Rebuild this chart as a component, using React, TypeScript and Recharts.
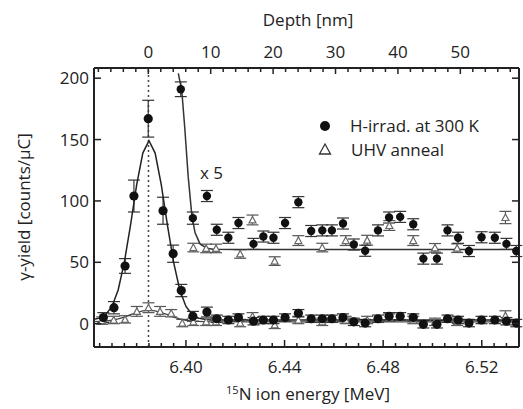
import React from "react";
import {
  ScatterChart,
  Scatter,
  XAxis,
  YAxis,
  ErrorBar,
  ReferenceLine,
} from "recharts";

// H-irradiated sample at 300 K (counts/uC vs 15N energy in MeV)
const hEnergy = [
  6.3665, 6.3708, 6.3753, 6.3789, 6.3847, 6.3907, 6.3948, 6.3981, 6.4028,
  6.4085, 6.4125, 6.4172, 6.4213, 6.4274, 6.4314, 6.4355, 6.4402, 6.4456,
  6.4508, 6.4553, 6.4592, 6.4637, 6.4681, 6.4727, 6.4779, 6.4824, 6.4869,
  6.4922, 6.4963, 6.5018, 6.5061, 6.5104, 6.5148, 6.5199, 6.5253, 6.53,
  6.534,
];
const hYield = [
  5, 13, 47, 104, 167, 92, 57, 27, 6, 9.5, 4, 3, 5, 2, 3, 3, 5, 8.5, 4, 4, 4,
  5, 1.5, 0.5, 4, 6, 6, 5, -0.5, -0.5, 4, 3, 0.5, 3, 3, 2, 0.5,
];
const hErr = [
  4, 5, 6, 13, 15, 11, 7, 5, 4, 4, 3, 3, 3, 3, 3, 3, 3, 3, 3, 3, 3, 3, 3, 3, 3,
  3, 3, 3, 3, 3, 3, 3, 3, 3, 3, 3, 3,
];

// same data magnified x5 (tail)
const hX5Energy = [
  6.3979, 6.4028, 6.4085, 6.4125, 6.4172, 6.4213, 6.4274, 6.4314, 6.4355,
  6.4402, 6.4456, 6.4508, 6.4553, 6.4592, 6.4637, 6.4681, 6.4727, 6.4779,
  6.4824, 6.4869, 6.4922, 6.4963, 6.5018, 6.5061, 6.5104, 6.5148, 6.5199,
  6.5253, 6.53, 6.534,
];
const hX5Yield = [
  191, 86, 104, 76.5, 70, 82, 65, 71, 70, 82, 99, 75.5, 76, 76, 81.6, 64.5,
  59.4, 76, 86.5, 87, 81, 53, 53, 76, 70, 59.2, 70.4, 70, 65, 59.2,
];
const hX5Err = [
  6, 5, 4.5, 4.5, 4.5, 4.5, 4.5, 4.5, 4.5, 4.5, 4.5, 4.5, 4.5, 4.5, 4.5, 4.5,
  4.5, 4.5, 4.5, 4.5, 4.5, 4.5, 4.5, 4.5, 4.5, 4.5, 4.5, 4.5, 4.5, 4.5,
];

// UHV anneal
const uhvEnergy = [
  6.366, 6.3707, 6.3753, 6.3801, 6.3848, 6.3895, 6.394, 6.3985, 6.403, 6.4082,
  6.4122, 6.422, 6.427, 6.436, 6.4456, 6.4553, 6.4648, 6.4735, 6.4825, 6.4922,
  6.501, 6.51, 6.5296,
];
const uhvYield = [
  2.5, 3, 3.5, 10, 13, 10, 8.5, 0.5, 1.5, 1.5, 1.5, 0.5, 6, -1, 3, 1.5, 3, 3,
  5, 3, 1.5, 1.5, 6.5,
];
const uhvErr = [3, 3, 3, 4, 4, 4, 3, 3, 3, 3, 3, 3, 3, 3, 3, 3, 3, 3, 3, 3, 3, 3, 4];

const uhvX5Energy = [
  6.403, 6.4082, 6.4122, 6.422, 6.427, 6.436, 6.4456, 6.4553, 6.4648, 6.4735,
  6.4825, 6.4922, 6.501, 6.51, 6.5296,
];
const uhvX5Yield = [
  62, 61.3, 61.3, 56.8, 84.5, 51, 67.7, 62, 67.7, 68, 80, 67.7, 61.8, 61.5,
  86.5,
];
const uhvX5Err = [3.5, 3.5, 3.5, 3.5, 4, 3.5, 4, 3.5, 4, 4, 4, 4, 3.5, 3.5, 5];

// fit curves
const fitEnergy = [
  6.3627, 6.365, 6.3675, 6.37, 6.3725, 6.375, 6.3775, 6.38, 6.3825, 6.385,
  6.3875, 6.39, 6.3925, 6.395, 6.3975, 6.4, 6.4025, 6.405, 6.4075, 6.41, 6.535,
];
const fitH = [
  3.5, 4.5, 7.5, 14, 27.5, 50, 80, 113, 139, 149, 139, 113, 80, 50, 27.5, 14,
  7.5, 4.5, 3.5, 3, 3,
];
const fitUhv = [
  1.6, 1.8, 2.1, 2.8, 3.9, 5.4, 7.3, 9.1, 10.5, 11, 10.5, 9.1, 7.3, 5.4, 3.9,
  2.8, 2.1, 1.8, 1.6, 1.5, 1.5,
];
const fitX5Energy = [
  6.3969, 6.3983, 6.3995, 6.4009, 6.4024, 6.4037, 6.4057, 6.4085, 6.411, 6.42,
  6.535,
];
const fitX5 = [204, 190, 160, 120, 88, 74, 65, 61.5, 60.7, 60.5, 60.5];

// axes
const energyTicks = [
  6.365, 6.37, 6.375, 6.38, 6.385, 6.39, 6.395, 6.4, 6.405, 6.41, 6.415, 6.42,
  6.425, 6.43, 6.435, 6.44, 6.445, 6.45, 6.455, 6.46, 6.465, 6.47, 6.475, 6.48,
  6.485, 6.49, 6.495, 6.5, 6.505, 6.51, 6.515, 6.52, 6.525, 6.53,
];
const energyLabels = [6.4, 6.44, 6.48, 6.52];
const depthDomain = [-8.7, 59.4];
const depthTicks = [
  -8, -6, -4, -2, 0, 2, 4, 6, 8, 10, 12, 14, 16, 18, 20, 22, 24, 26, 28, 30,
  32, 34, 36, 38, 40, 42, 44, 46, 48, 50, 52, 54, 56, 58,
];
const depthLabels = [0, 10, 20, 30, 40, 50];
const yieldDomain = [-19, 208.3];
const yieldTicks = [0, 50, 100, 150, 200];

const FONT = "'Open Sans', sans-serif";
const INK = "#222";

const toPoints = (xs: number[], ys: number[], es?: number[]) =>
  xs.map((x, i) => ({ x, y: ys[i], err: es ? es[i] : 0 }));

const hData = toPoints(hEnergy, hYield, hErr);
const hX5Data = toPoints(hX5Energy, hX5Yield, hX5Err);
const uhvData = toPoints(uhvEnergy, uhvYield, uhvErr);
const uhvX5Data = toPoints(uhvX5Energy, uhvX5Yield, uhvX5Err);
const fitHData = toPoints(fitEnergy, fitH);
const fitUhvData = toPoints(fitEnergy, fitUhv);
const fitX5Data = toPoints(fitX5Energy, fitX5);
// invisible anchor so the depth / right axes get drawn
const anchorData = toPoints(depthDomain, yieldDomain);

const isIn = (v: number, list: number[]) =>
  list.some((t) => Math.abs(t - v) < 1e-6);

const BottomTick = (props: any) => {
  const { x, y, payload } = props;
  const major = isIn(payload.value, energyLabels);
  return (
    <g>
      <line x1={x} x2={x} y1={y} y2={y - (major ? 7 : 4)} stroke={INK} strokeWidth={1.5} />
      {major && (
        <text x={x} y={y + 26} textAnchor="middle" fontSize={17} fontFamily={FONT} fill={INK}>
          {payload.value.toFixed(2)}
        </text>
      )}
    </g>
  );
};

const TopTick = (props: any) => {
  const { x, y, payload } = props;
  const major = isIn(payload.value, depthLabels);
  return (
    <g>
      <line x1={x} x2={x} y1={y} y2={y + (major ? 6 : 4)} stroke={INK} strokeWidth={1.5} />
      {major && (
        <text x={x} y={y - 10} textAnchor="middle" fontSize={17} fontFamily={FONT} fill={INK}>
          {payload.value}
        </text>
      )}
    </g>
  );
};

const LeftTick = (props: any) => {
  const { x, y, payload } = props;
  return (
    <g>
      <line x1={x} x2={x + 7} y1={y} y2={y} stroke={INK} strokeWidth={1.5} />
      <text x={x - 5} y={y + 6} textAnchor="end" fontSize={17} fontFamily={FONT} fill={INK}>
        {payload.value}
      </text>
    </g>
  );
};

const RightTick = (props: any) => {
  const { x, y } = props;
  return <line x1={x} x2={x - 7} y1={y} y2={y} stroke={INK} strokeWidth={1.5} />;
};

const Dot = (p: any) => <circle cx={p.cx} cy={p.cy} r={4.6} fill="#111" />;
const SmallDot = (p: any) => <circle cx={p.cx} cy={p.cy} r={4.2} fill="#111" />;
const Tri = (p: any) => (
  <polygon
    points={`${p.cx},${p.cy - 3.5} ${p.cx - 3.5},${p.cy + 3} ${p.cx + 3.5},${p.cy + 3}`}
    fill="#fff"
    stroke="#666"
    strokeWidth={1.2}
  />
);
const NoDot = () => <g />;

export default function App() {
  return (
    <div style={{ position: "absolute", left: 0, top: 0, width: 523, height: 409, background: "#fff" }}>
      <ScatterChart
        width={523}
        height={409}
        margin={{ top: 38, right: 2, bottom: 32, left: 50 }}
      >
        <XAxis
          xAxisId={0}
          dataKey="x"
          type="number"
          domain={[6.3627, 6.5351]}
          allowDataOverflow
          ticks={energyTicks}
          interval={0}
          height={30}
          tickSize={0}
          tickMargin={0}
          tickLine={false}
          tick={<BottomTick />}
          axisLine={{ stroke: INK, strokeWidth: 2 }}
        />
        <XAxis
          xAxisId="depth"
          dataKey="x"
          orientation="top"
          type="number"
          domain={depthDomain}
          allowDataOverflow
          ticks={depthTicks}
          interval={0}
          height={30}
          tickSize={0}
          tickMargin={0}
          tickLine={false}
          tick={<TopTick />}
          axisLine={{ stroke: INK, strokeWidth: 2 }}
        />
        <YAxis
          yAxisId={0}
          dataKey="y"
          type="number"
          domain={yieldDomain}
          allowDataOverflow
          ticks={yieldTicks}
          interval={0}
          width={44}
          tickSize={0}
          tickMargin={0}
          tickLine={false}
          tick={<LeftTick />}
          axisLine={{ stroke: INK, strokeWidth: 2 }}
        />
        <YAxis
          yAxisId="r"
          dataKey="y"
          orientation="right"
          type="number"
          domain={yieldDomain}
          allowDataOverflow
          ticks={yieldTicks}
          interval={0}
          width={2}
          tickSize={0}
          tickMargin={0}
          tickLine={false}
          tick={<RightTick />}
          axisLine={{ stroke: INK, strokeWidth: 2 }}
        />
        <ReferenceLine x={6.3848} stroke="#444" strokeWidth={1.5} strokeDasharray="2 3" />

        <Scatter xAxisId="depth" yAxisId="r" data={anchorData} shape={NoDot} isAnimationActive={false} />

        <Scatter data={fitUhvData} line={{ stroke: "#444", strokeWidth: 1.3 }} shape={NoDot} isAnimationActive={false} />
        <Scatter data={fitHData} line={{ stroke: "#222", strokeWidth: 1.5 }} shape={NoDot} isAnimationActive={false} />
        <Scatter data={fitX5Data} line={{ stroke: "#333", strokeWidth: 1.5 }} shape={NoDot} isAnimationActive={false} />

        <Scatter data={uhvX5Data} shape={Tri} isAnimationActive={false}>
          <ErrorBar dataKey="err" direction="y" width={6} stroke="#555" strokeWidth={1.2} />
        </Scatter>
        <Scatter data={uhvData} shape={Tri} isAnimationActive={false}>
          <ErrorBar dataKey="err" direction="y" width={6} stroke="#555" strokeWidth={1.2} />
        </Scatter>
        <Scatter data={hX5Data} shape={SmallDot} isAnimationActive={false}>
          <ErrorBar dataKey="err" direction="y" width={6} stroke="#333" strokeWidth={1.2} />
        </Scatter>
        <Scatter data={hData} shape={Dot} isAnimationActive={false}>
          <ErrorBar dataKey="err" direction="y" width={6} stroke="#333" strokeWidth={1.2} />
        </Scatter>
      </ScatterChart>

      <svg
        width={523}
        height={409}
        style={{ position: "absolute", left: 0, top: 0, pointerEvents: "none" }}
        fontFamily={FONT}
        fill={INK}
      >
        <text x={308} y={26} textAnchor="middle" fontSize={17}>
          Depth [nm]
        </text>
        <text x={308} y={400} textAnchor="middle" fontSize={17}>
          <tspan fontSize={11} dy={-6}>15</tspan>
          <tspan dy={6}>N ion energy [MeV]</tspan>
        </text>
        <text x={30} y={207} textAnchor="middle" fontSize={17} transform="rotate(-90 30 207)">
          γ-yield [counts/μC]
        </text>
        <text x={200} y={179} fontSize={17}>
          x 5
        </text>
        <circle cx={325} cy={126} r={5} fill="#111" />
        <text x={350} y={132} fontSize={17}>
          H-irrad. at 300 K
        </text>
        <polygon points="325,144 319.5,154 330.5,154" fill="#fff" stroke="#333" strokeWidth={1.3} />
        <text x={351} y={156} fontSize={17}>
          UHV anneal
        </text>
      </svg>
    </div>
  );
}
